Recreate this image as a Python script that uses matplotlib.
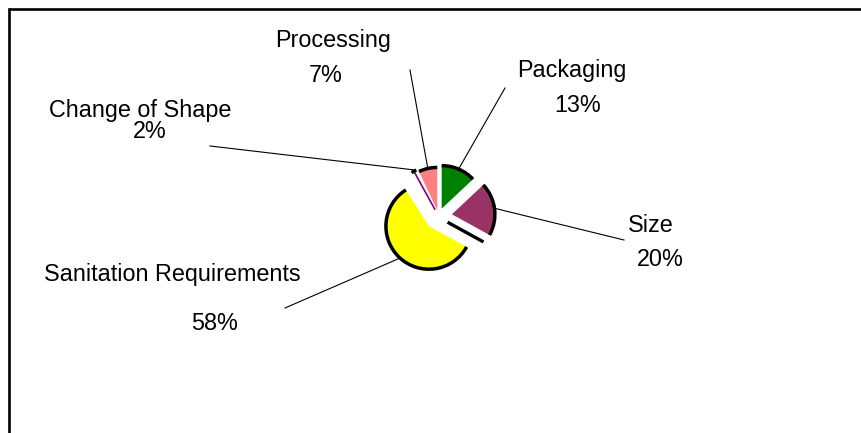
import numpy as np
import matplotlib.pyplot as plt
from matplotlib.patches import Arc

# данные (по часовой стрелке от 12 часов)
categories = ["Packaging", "Size", "Sanitation Requirements", "Change of Shape", "Processing"]
shares = [13, 20, 58, 2, 7]
pct_labels = ["13%", "20%", "58%", "2%", "7%"]
colors = ["#008000", "#993366", "#FFFF00", "#FFFFFF", "#FF8080"]

W, H = 861, 433
fig = plt.figure(figsize=(W / 100, H / 100), dpi=100)
ax = fig.add_axes([0, 0, 1, 1])

R = 43
explode = [8, 13.5, 14, 8, 5.7]
wedges, _ = ax.pie(shares, explode=explode, colors=colors, startangle=90,
                   counterclock=False, center=(438.5, H - 216), radius=R,
                   frame=True, wedgeprops=dict(linewidth=0))

# толстая черная обводка по дуге
for w in wedges:
    ax.add_patch(Arc(w.center, 2 * w.r, 2 * w.r, theta1=w.theta1, theta2=w.theta2,
                     color="black", lw=2.5, zorder=3))

# тонкий сектор "Change of Shape" - только фиолетовая линия
w = wedges[3]
tm = np.radians((w.theta1 + w.theta2) / 2)
cx, cy = w.center
ax.plot([cx, cx + w.r * np.cos(tm)], [cy, cy + w.r * np.sin(tm)],
        color="#800080", lw=1.2, zorder=2)

# черная полоска под сектором Size
w = wedges[1]
phi = np.radians(min(w.theta1, w.theta2))
u = np.array([np.cos(phi), np.sin(phi)])
n = np.array([np.sin(phi), -np.cos(phi)])
p0 = np.array(w.center) + 9 * n
p1 = p0 + 41 * u
ax.plot([p0[0], p1[0]], [p0[1], p1[1]], color="black", lw=2.4,
        solid_capstyle="butt", zorder=3)

# подписи и выноски (позиции в пикселях, y сверху)
name_pos = [(572, 71), (651, 226), (172, 275), (140, 111), (333, 40)]
pct_pos = [(578, 105), (660, 260), (215, 324), (150, 131), (326, 76)]
line_from = [(505, 88), (624, 240), (285, 308), (210, 146), (410, 70)]

for i, w in enumerate(wedges):
    tm = np.radians((w.theta1 + w.theta2) / 2)
    cx, cy = w.center
    tip = (cx + 1.04 * w.r * np.cos(tm), cy + 1.04 * w.r * np.sin(tm))
    lx, ly = line_from[i]
    ax.plot([lx, tip[0]], [H - ly, tip[1]], color="black", lw=0.8, zorder=1)
    ax.text(name_pos[i][0], H - name_pos[i][1], categories[i], ha="center", va="center",
            fontsize=16.8, family="Liberation Sans")
    ax.text(pct_pos[i][0], H - pct_pos[i][1], pct_labels[i], ha="center", va="center",
            fontsize=16.8, family="Liberation Sans")

# рамка
ax.plot([9.3, 9.3], [0, H - 8], color="black", lw=1.9, solid_capstyle="butt")
ax.plot([8, W], [H - 9.3, H - 9.3], color="black", lw=1.9, solid_capstyle="butt")

ax.set_xlim(0, W)
ax.set_ylim(0, H)
ax.axis("off")

fig.savefig("out.png", dpi=100)
